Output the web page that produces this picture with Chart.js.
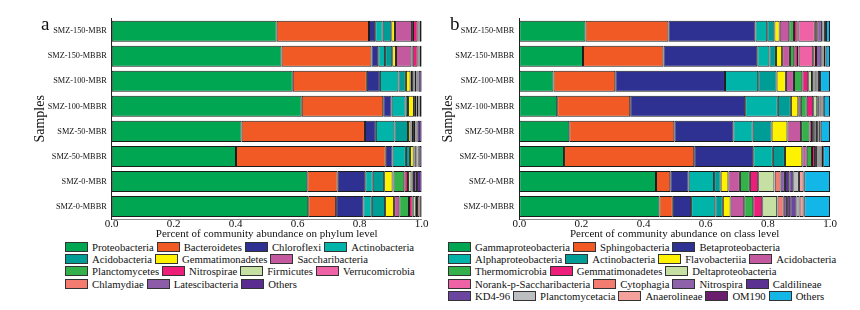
<!DOCTYPE html>
<html><head><meta charset="utf-8">
<script src="https://cdn.jsdelivr.net/npm/chart.js@4.4.0/dist/chart.umd.min.js"></script>
<style>
html,body{margin:0;padding:0;background:#fff;width:860px;height:310px;overflow:hidden;position:relative;}
canvas{position:absolute;top:0;}
#c1{left:0px} #c2{left:430px}
.tag{position:absolute;font-family:"Liberation Serif",serif;font-size:19px;line-height:19px;color:#111;}
.legend{position:absolute;top:240.5px;display:flex;flex-wrap:wrap;font-family:"Liberation Serif",serif;font-size:10.7px;color:#111;}
.item{display:flex;align-items:center;height:12.3px;margin-right:3px;white-space:nowrap;}
.box{width:23px;height:10px;box-sizing:border-box;border:1.5px solid #333;margin-right:4px;flex:none;}
</style></head><body>
<canvas id="c1" width="430" height="240"></canvas>
<canvas id="c2" width="430" height="240"></canvas>
<div class="tag" style="left:41px;top:14px;">a</div>
<div class="tag" style="left:450px;top:14px;">b</div>
<div class="legend" id="lg1" style="left:65px;width:380px;"></div>
<div class="legend" id="lg2" style="left:448px;width:400px;"></div>
<script>
const samples = ['SMZ-150-MBR','SMZ-150-MBBR','SMZ-100-MBR','SMZ-100-MBBR','SMZ-50-MBR','SMZ-50-MBBR','SMZ-0-MBR','SMZ-0-MBBR'];
const xTicks = [0.0, 0.2, 0.4, 0.6, 0.8, 1.0];

// Phylum level (panel a)
const phylumNames = ['Proteobacteria','Bacteroidetes','Chloroflexi','Actinobacteria','Acidobacteria','Gemmatimonadetes','Saccharibacteria','Planctomycetes','Nitrospirae','Firmicutes','Verrucomicrobia','Chlamydiae','Latescibacteria','Others'];
const proteobacteria   = [0.532,0.548,0.584,0.613,0.419,0.401,0.631,0.634];
const bacteroidetes    = [0.298,0.290,0.239,0.263,0.398,0.483,0.098,0.090];
const chloroflexi      = [0.020,0.022,0.042,0.027,0.035,0.022,0.089,0.088];
const actinobacteriaP  = [0.024,0.022,0.060,0.045,0.060,0.043,0.024,0.027];
const acidobacteriaP   = [0.028,0.023,0.024,0.008,0.044,0.013,0.037,0.043];
const gemmatimonadetesP= [0.012,0.012,0.015,0.019,0.008,0.012,0.027,0.029];
const saccharibacteria = [0.055,0.050,0.005,0.003,0.003,0.003,0.003,0.017];
const planctomycetes   = [0.003,0.004,0.005,0.004,0.005,0.004,0.035,0.031];
const nitrospirae      = [0.015,0.016,0.003,0.002,0.003,0.002,0.012,0.012];
const firmicutes       = [0.002,0.002,0.006,0.006,0.004,0.003,0.011,0.010];
const verrucomicrobia  = [0.002,0.002,0.002,0.001,0.002,0.001,0.004,0.004];
const chlamydiae       = [0.001,0.001,0.002,0.001,0.002,0.002,0.004,0.008];
const latescibacteria  = [0.002,0.002,0.003,0.002,0.004,0.003,0.010,0.002];
const othersP          = [0.006,0.006,0.010,0.006,0.013,0.008,0.015,0.005];
const phylumSeries = [proteobacteria,bacteroidetes,chloroflexi,actinobacteriaP,acidobacteriaP,gemmatimonadetesP,saccharibacteria,planctomycetes,nitrospirae,firmicutes,verrucomicrobia,chlamydiae,latescibacteria,othersP];
const phylumColors = ['#00a651','#f15a24','#2e3192','#00b4aa','#009d96','#fff200','#c4599f','#34b14b','#ed1e79','#c6e0a4','#f062a6','#f37b70','#8d5ca8','#5b2c90'];

// Class level (panel b)
const classNames = ['Gammaproteobacteria','Sphingobacteria','Betaproteobacteria','Alphaproteobacteria','Actinobacteria','Flavobacteriia','Acidobacteria','Thermomicrobia','Gemmatimonadetes','Deltaproteobacteria','Norank-p-Saccharibacteria','Cytophagia','Nitrospira','Caldilineae','KD4-96','Planctomycetacia','Anaerolineae','OM190','Others'];
const gamma      = [0.213,0.205,0.110,0.122,0.161,0.144,0.440,0.451];
const sphingo    = [0.267,0.259,0.199,0.235,0.338,0.419,0.046,0.043];
const beta       = [0.280,0.302,0.353,0.370,0.190,0.190,0.059,0.059];
const alpha      = [0.038,0.039,0.107,0.105,0.062,0.063,0.082,0.078];
const actinoC    = [0.023,0.021,0.059,0.042,0.061,0.039,0.021,0.024];
const flavo      = [0.017,0.020,0.030,0.024,0.051,0.056,0.025,0.025];
const acidoC     = [0.031,0.025,0.026,0.008,0.044,0.014,0.037,0.044];
const thermo     = [0.015,0.014,0.027,0.019,0.027,0.017,0.032,0.029];
const gemmaC     = [0.012,0.012,0.019,0.021,0.008,0.010,0.027,0.029];
const delta      = [0.002,0.002,0.012,0.013,0.003,0.003,0.052,0.048];
const norank     = [0.053,0.047,0.003,0.003,0.003,0.003,0.001,0.001];
const cyto       = [0.008,0.009,0.002,0.003,0.003,0.002,0.019,0.020];
const nitrospira = [0.015,0.017,0.003,0.002,0.003,0.003,0.014,0.011];
const caldi      = [0.002,0.003,0.004,0.003,0.004,0.003,0.014,0.010];
const kd4        = [0.002,0.002,0.003,0.002,0.003,0.002,0.013,0.020];
const planctoC   = [0.001,0.001,0.002,0.002,0.002,0.002,0.018,0.010];
const anaero     = [0.002,0.002,0.002,0.002,0.002,0.002,0.015,0.013];
const om190      = [0.006,0.006,0.007,0.004,0.005,0.006,0.002,0.002];
const othersC    = [0.013,0.014,0.032,0.020,0.030,0.022,0.083,0.083];
const classSeries = [gamma,sphingo,beta,alpha,actinoC,flavo,acidoC,thermo,gemmaC,delta,norank,cyto,nitrospira,caldi,kd4,planctoC,anaero,om190,othersC];
const classColors = ['#00a651','#f15a24','#2e3192','#00b4aa','#009d96','#fff200','#c4599f','#34b14b','#ed1e79','#c6e0a4','#f062a6','#f37b70','#8d62ab','#5b3192','#6b45a0','#bdbec0','#f4a19b','#6c1e6e','#12b7e8'];

Chart.defaults.font.family = "'Liberation Serif', 'Times New Roman', serif";
Chart.defaults.color = '#111';

function makeChart(id, names, series, colors, xTitle, padLeft, axisW, padRight) {
  const datasets = series.map((d, i) => ({
    label: names[i], data: d, backgroundColor: colors[i],
    borderColor: '#1c1c1c', borderWidth: 1, borderSkipped: false,
    barPercentage: 0.84, categoryPercentage: 1.0
  }));
  return new Chart(document.getElementById(id), {
    type: 'bar',
    data: { labels: samples, datasets },
    options: {
      indexAxis: 'y', responsive: false, animation: false,
      layout: { padding: { left: padLeft, right: padRight, top: 18.7, bottom: 0 } },
      plugins: { legend: { display: false }, tooltip: { enabled: false } },
      scales: {
        x: {
          type: 'linear', stacked: true, min: 0, max: 1,
          afterBuildTicks: s => { s.ticks = xTicks.map(v => ({ value: v })); },
          ticks: { callback: v => Number(v).toFixed(1), font: { size: 11, lineHeight: 1 }, padding: 0, color: '#111', maxRotation: 0 },
          grid: { display: false, drawTicks: false },
          border: { display: true, color: '#8a8a8a', width: 1 },
          title: { display: true, text: xTitle, font: { size: 11, lineHeight: 1 }, padding: { top: -1, bottom: 0 }, color: '#111' }
        },
        y: {
          stacked: true,
          ticks: { font: { size: 8.3 }, padding: 5, color: '#111' },
          grid: { display: false, drawTicks: false },
          border: { display: true, color: '#222', width: 1 },
          title: { display: true, text: 'Samples', font: { size: 14, lineHeight: 1 }, padding: { top: 0, bottom: 0 }, color: '#111' },
          afterFit: s => { s.width = axisW; }
        }
      }
    }
  });
}

makeChart('c1', phylumNames, phylumSeries, phylumColors, 'Percent of community abundance on phylum level', 33, 78.7, 8.3);
makeChart('c2', classNames, classSeries, classColors, 'Percent of community abundance on class level', 11, 78.3, 30);

function buildLegend(id, names, colors) {
  const el = document.getElementById(id);
  names.forEach((n, i) => {
    const it = document.createElement('div'); it.className = 'item';
    const b = document.createElement('span'); b.className = 'box'; b.style.background = colors[i];
    const t = document.createElement('span'); t.textContent = n;
    it.appendChild(b); it.appendChild(t); el.appendChild(it);
  });
}
buildLegend('lg1', phylumNames, phylumColors);
buildLegend('lg2', classNames, classColors);
</script>
</body></html>
